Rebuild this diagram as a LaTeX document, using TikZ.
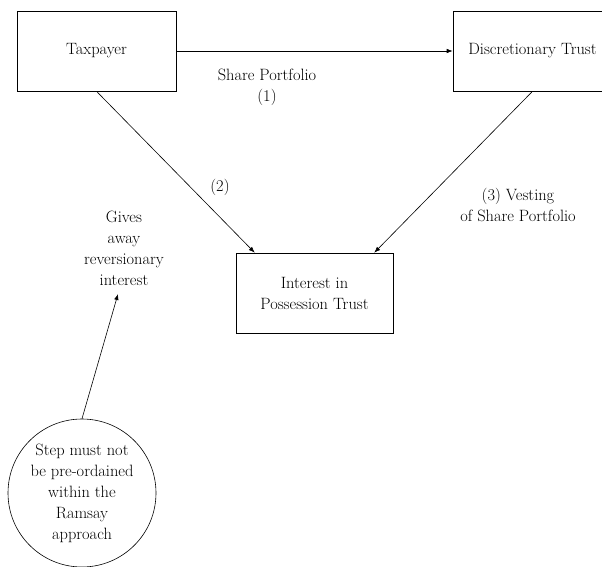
\documentclass[tikz,border=0pt]{standalone}
\usetikzlibrary{arrows.meta}
\begin{document}
\begin{tikzpicture}[x=1pt,y=1pt,
  every node/.style={font=\fontsize{16.4}{21}\selectfont, align=center, inner sep=0pt},
  box/.style={draw, line width=0.6pt, minimum height=80pt},
  circ/.style={draw, circle, line width=0.6pt, minimum size=148pt},
  conn/.style={line width=0.6pt, -{Latex[length=6pt,width=4.5pt]}}]
\useasboundingbox (0,0) rectangle (602,566);
\node[box, minimum width=159pt] (tax) at (96.5,515) {Taxpayer};
\node[box, minimum width=159pt] (disc) at (532.5,515) {Discretionary Trust};
\node[box, minimum width=157pt] (ipt) at (314.5,273) {Interest in\\Possession Trust};
\node[circ] (step) at (82,73) {Step must not\\be pre-ordained\\within the\\Ramsay\\approach};
\node (gives) at (124,318) {Gives\\away\\reversionary\\interest};
\coordinate (gtip) at (118,272);
\node (l1) at (267,479) {Share Portfolio\\(1)};
\node (l2) at (220,379) {(2)};
\node (l3) at (518,361) {(3) Vesting\\of Share Portfolio};
\draw[conn] (tax.east) -- (disc.west);
\draw[conn] (tax.south) -- ([xshift=19pt]ipt.north west);
\draw[conn] (disc.south) -- ([xshift=-19pt]ipt.north east);
\draw[conn] (step.north) -- (gtip);
\end{tikzpicture}
\end{document}
